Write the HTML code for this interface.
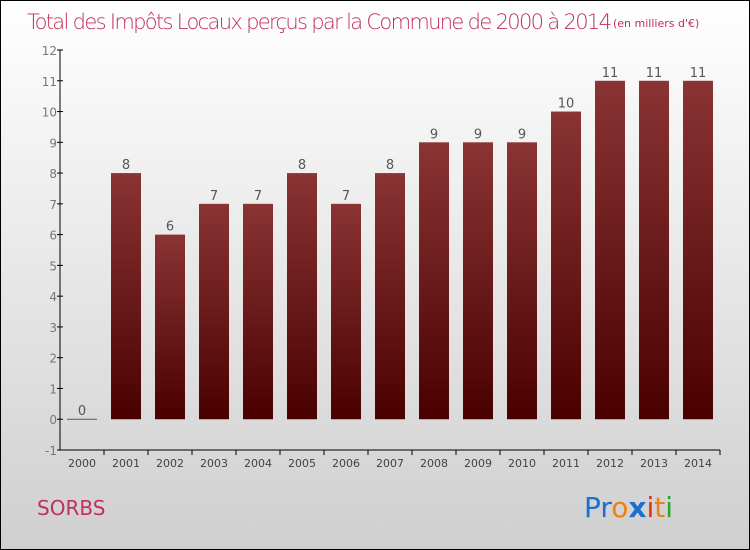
<!DOCTYPE html>
<html><head><meta charset="utf-8"><style>
body{margin:0}
#c{width:748px;height:548px;border:1px solid #000;background:linear-gradient(#ffffff,#cfcfcf);position:relative;font-family:"DejaVu Sans","Liberation Sans",sans-serif;overflow:hidden}
</style></head><body>
<div id="c">
<svg width="748" height="548">
<defs><linearGradient id="g" x1="0" y1="0" x2="0" y2="1"><stop offset="0" stop-color="#8a3434"/><stop offset="1" stop-color="#4a0000"/></linearGradient></defs>
<text x="26" y="28" font-size="21" fill="#c0305a" font-family="DejaVu Sans,sans-serif" font-weight="200" textLength="585">Total des Impôts Locaux perçus par la Commune de 2000 à 2014</text>
<text x="612" y="26" font-size="11" fill="#c0305a">(en milliers d'€)</text>
<g id="axes"></g><g id="bars"></g>
<text x="36" y="514" font-size="20" fill="#c0305a">SORBS</text>
<text x="583" y="516" font-size="28" font-family="DejaVu Sans,sans-serif"><tspan fill="#1a6fcf">Pr</tspan><tspan fill="#f08010">o</tspan><tspan fill="#1a6fcf" font-weight="bold">x</tspan><tspan fill="#e03010">i</tspan><tspan fill="#f08010">t</tspan><tspan fill="#30a030">i</tspan></text>
</svg></div>
<script>
const years=["2000","2001","2002","2003","2004","2005","2006","2007","2008","2009","2010","2011","2012","2013","2014"];
const values=[0,8,6,7,7,8,7,8,9,9,9,10,11,11,11];
const yTicks=[-1,0,1,2,3,4,5,6,7,8,9,10,11,12];
const ns="http://www.w3.org/2000/svg";
const yMin=-1,yMax=12,yTop=49,yBot=449,x0=59,step=44,first=81,bw=30;
const sy=v=>yBot-(v-yMin)/(yMax-yMin)*(yBot-yTop);
const sx=i=>first+i*step;
function mk(t,a,p){const e=document.createElementNS(ns,t);for(const k in a)e.setAttribute(k,a[k]);p.appendChild(e);return e;}
const ax=document.getElementById('axes'),bg=document.getElementById('bars');
let l=mk('line',{x1:x0,y1:yTop,x2:x0,y2:yBot,stroke:'#000'},ax);


l=mk('line',{x1:x0,y1:yBot,x2:sx(years.length-1)+22,y2:yBot,stroke:'#000'},ax);


yTicks.forEach(v=>{
 mk('line',{x1:x0-3,y1:sy(v),x2:x0+3,y2:sy(v),stroke:'#000'},ax);
 const t=mk('text',{x:x0-3,y:sy(v)+5,'text-anchor':'end','font-size':12,fill:'#777'},ax);t.textContent=v;
 
 
});
years.forEach((yr,i)=>{
 mk('line',{x1:sx(i)+22,y1:yBot,x2:sx(i)+22,y2:yBot+5,stroke:'#000'},ax);
 const t=mk('text',{x:sx(i),y:yBot+17,'text-anchor':'middle','font-size':11,fill:'#444'},ax);t.textContent=yr;
 
 
 const v=values[i],yt=sy(v),y0=sy(0);
 let r;
 if(v>0){r=mk('rect',{x:sx(i)-bw/2,y:yt,width:bw,height:y0-yt,fill:'url(#g)'},bg);}
 else{r=mk('line',{x1:sx(i)-bw/2,y1:y0,x2:sx(i)+bw/2,y2:y0,stroke:'#555'},bg);}
 
 
 const vt=mk('text',{x:sx(i),y:yt-4,'text-anchor':'middle','font-size':13,fill:'#555'},bg);vt.textContent=v;
 
 
});
</script>
</body></html>
